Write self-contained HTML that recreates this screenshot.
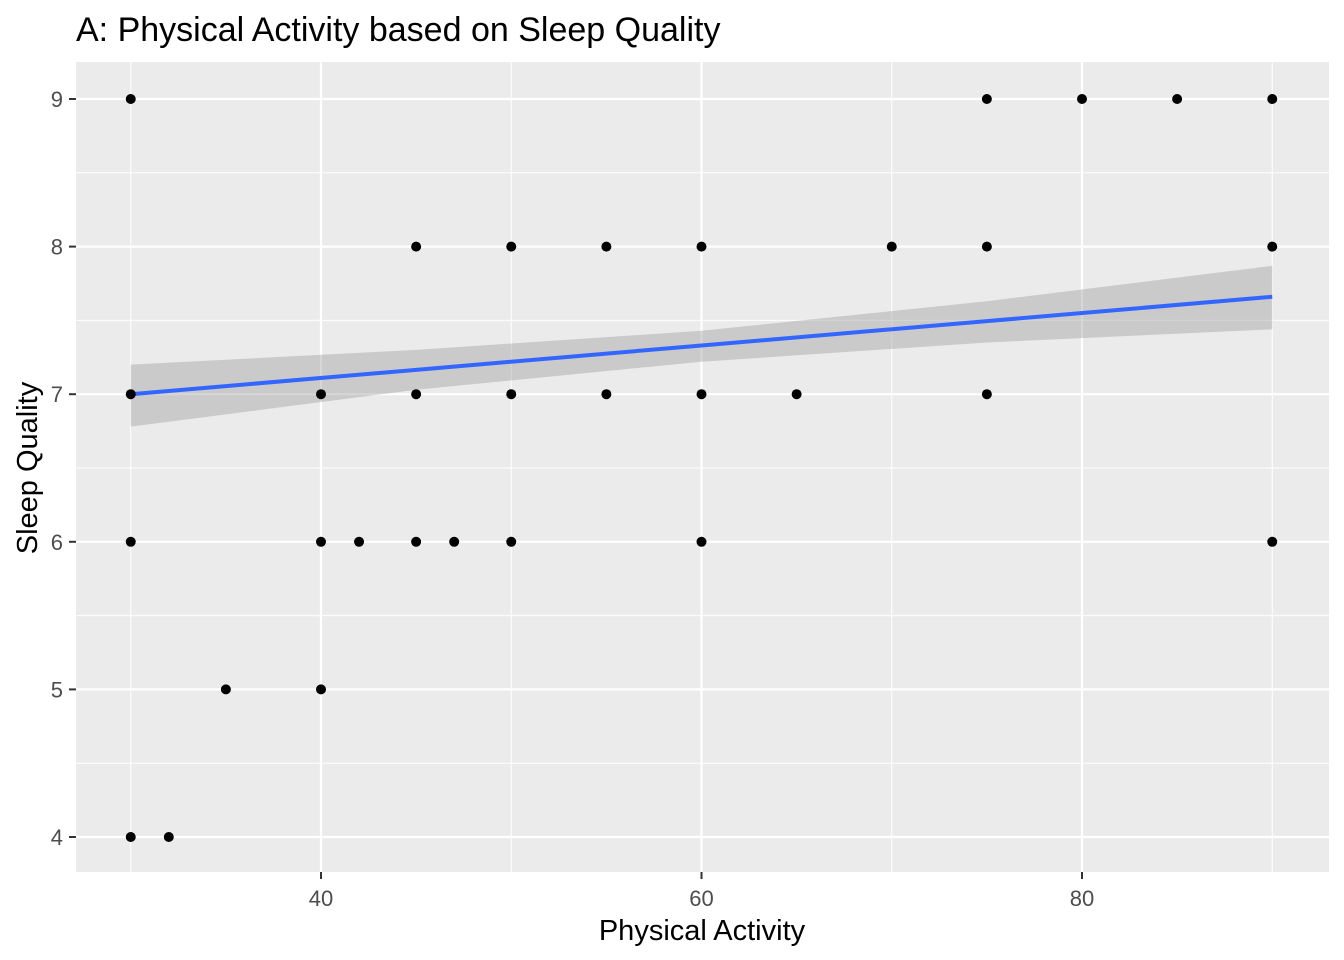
<!DOCTYPE html>
<html><head><meta charset="utf-8"><style>
html,body{margin:0;padding:0;background:#fff;}
svg{display:block;font-family:"Liberation Sans",sans-serif;}
</style></head><body>
<svg id="chart" width="1344" height="960" viewBox="0 0 1344 960">
<text x="76" y="41" font-size="34" fill="#000">A: Physical Activity based on Sleep Quality</text>
<rect x="76" y="62" width="1253" height="810" fill="#ebebeb"/>
<g id="grid"></g>
<g id="band"></g>
<g id="fit"></g>
<g id="pts"></g>
<g id="axes"></g>
<text x="702" y="940" font-size="29" text-anchor="middle" fill="#000">Physical Activity</text>
<text transform="translate(37,468) rotate(-90)" font-size="29" text-anchor="middle" fill="#000">Sleep Quality</text>
</svg>
<script>
const xs = [30,30,30,30,32,35,40,40,40,42,45,45,45,47,50,50,50,55,55,60,60,60,65,70,75,75,75,80,85,90,90,90];
const ys = [9,7,6,4,4,5,5,6,7,6,8,7,6,6,8,7,6,8,7,8,7,6,7,8,9,8,7,9,9,9,8,6];
const fitX = [30,45,60,75,90];
const fitY = [7.0,7.165,7.33,7.495,7.66];
const bandLo = [6.78,7.03,7.22,7.35,7.44];
const bandHi = [7.2,7.30,7.43,7.63,7.87];
const xTicks = [40,60,80];
const xMinor = [30,50,70,90];
const yTicks = [4,5,6,7,8,9];
const yMinor = [4.5,5.5,6.5,7.5,8.5];

const NS="http://www.w3.org/2000/svg";
const X = v => 321 + (v-40)*(1082-321)/40;
const Y = v => 837 - (v-4)*(837-99)/5;
function mk(tag, attrs, parent){const e=document.createElementNS(NS,tag);for(const k in attrs)e.setAttribute(k,attrs[k]);document.getElementById(parent).appendChild(e);return e;}

xMinor.forEach(v=>{const l=mk('line',{x1:X(v),x2:X(v),y1:62,y2:872,stroke:'#fff','stroke-width':1},'grid');

});
yMinor.forEach(v=>{const l=mk('line',{x1:76,x2:1329,y1:Y(v),y2:Y(v),stroke:'#fff','stroke-width':1},'grid');

});
xTicks.forEach(v=>{const l=mk('line',{x1:X(v),x2:X(v),y1:62,y2:872,stroke:'#fff','stroke-width':2.2},'grid');


const t=mk('line',{x1:X(v),x2:X(v),y1:872,y2:879,stroke:'#333','stroke-width':2},'axes');


const tx=mk('text',{x:X(v),y:906,'font-size':22,'text-anchor':'middle',fill:'#4d4d4d'},'axes');tx.textContent=v;

});
yTicks.forEach(v=>{const l=mk('line',{x1:76,x2:1329,y1:Y(v),y2:Y(v),stroke:'#fff','stroke-width':2.2},'grid');


const t=mk('line',{x1:69,x2:76,y1:Y(v),y2:Y(v),stroke:'#333','stroke-width':2},'axes');


const tx=mk('text',{x:63,y:Y(v)+8,'font-size':22,'text-anchor':'end',fill:'#4d4d4d'},'axes');tx.textContent=v;

});

let d='';fitX.forEach((v,i)=>{d+=(i?'L':'M')+X(v)+' '+Y(bandHi[i]);});
for(let i=fitX.length-1;i>=0;i--)d+='L'+X(fitX[i])+' '+Y(bandLo[i]);
const b=mk('path',{d:d+'Z',fill:'#999',opacity:0.4},'band');


const fl=mk('polyline',{points:fitX.map((v,i)=>X(v)+','+Y(fitY[i])).join(' '),fill:'none',stroke:'#3366ff','stroke-width':4},'fit');


xs.forEach((v,i)=>{const c=mk('circle',{cx:X(v),cy:Y(ys[i]),r:5,fill:'#000'},'pts');

});
</script>
</body></html>
